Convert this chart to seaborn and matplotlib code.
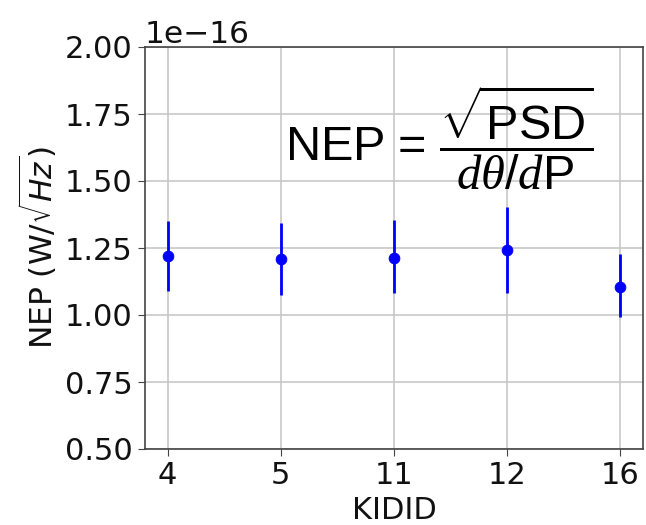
import matplotlib
matplotlib.use("Agg")
import matplotlib.pyplot as plt
import seaborn as sns
import numpy as np
import pandas as pd

kid_ids = ["4", "5", "11", "12", "16"]
nep = [1.219e-16, 1.208e-16, 1.212e-16, 1.244e-16, 1.104e-16]
err_low = [0.130e-16, 0.133e-16, 0.131e-16, 0.163e-16, 0.113e-16]
err_high = [0.131e-16, 0.136e-16, 0.144e-16, 0.160e-16, 0.123e-16]

df = pd.DataFrame({"KIDID": kid_ids, "NEP": nep})

sns.set_style("ticks")
plt.rcParams['font.family'] = ['DejaVu Sans']
plt.rcParams['text.color'] = '#111111'
plt.rcParams['axes.labelcolor'] = '#111111'
plt.rcParams['xtick.labelcolor'] = '#111111'
plt.rcParams['ytick.labelcolor'] = '#111111'
plt.rcParams['mathtext.fontset'] = 'custom'
plt.rcParams['mathtext.rm'] = 'Liberation Sans'
plt.rcParams['mathtext.it'] = 'Liberation Serif:italic'
plt.rcParams['mathtext.bf'] = 'Liberation Sans:bold'

fig = plt.figure(figsize=(6.46, 5.25), dpi=100)
ax = fig.add_axes([145/646, 1-449/525, (643-145)/646, (449-47)/525])

xpos = np.arange(len(kid_ids))
ax.errorbar(xpos, df["NEP"], yerr=[err_low, err_high], fmt="none",
            ecolor="blue", elinewidth=2, capsize=0, zorder=3)
sns.scatterplot(data=df, x="KIDID", y="NEP", color="blue", s=60, ax=ax,
                edgecolor="blue", zorder=4, legend=False)

ax.set_ylim(0.5e-16, 2.0e-16)
ax.set_yticks(np.arange(0.5e-16, 2.01e-16, 0.25e-16))
ax.set_xlim(-0.2, 4.2)
ax.grid(True, color="#c8c8c8", linewidth=1.2)
ax.set_axisbelow(True)
for s in ax.spines.values():
    s.set_visible(True)
    s.set_color("#444444")
    s.set_linewidth(1.2)
ax.tick_params(labelsize=22, length=5, color="#444444", pad=4)
ax.yaxis.get_offset_text().set_fontsize(22.5)
ax.set_xlabel("KIDID", fontsize=22, labelpad=4)
ax.set_ylabel(r"NEP (W/$\sqrt{Hz}$)", fontsize=22.5, math_fontfamily='dejavusans', labelpad=4)

ax.text(0.281, 0.716, r"$\mathrm{NEP}\,=\,\dfrac{\sqrt{\mathrm{PSD}}}{d\theta/d\mathrm{P}}$",
        transform=ax.transAxes, fontsize=35, math_fontfamily='custom', va="baseline",
        color="black")

fig.savefig("out.png", dpi=100)
